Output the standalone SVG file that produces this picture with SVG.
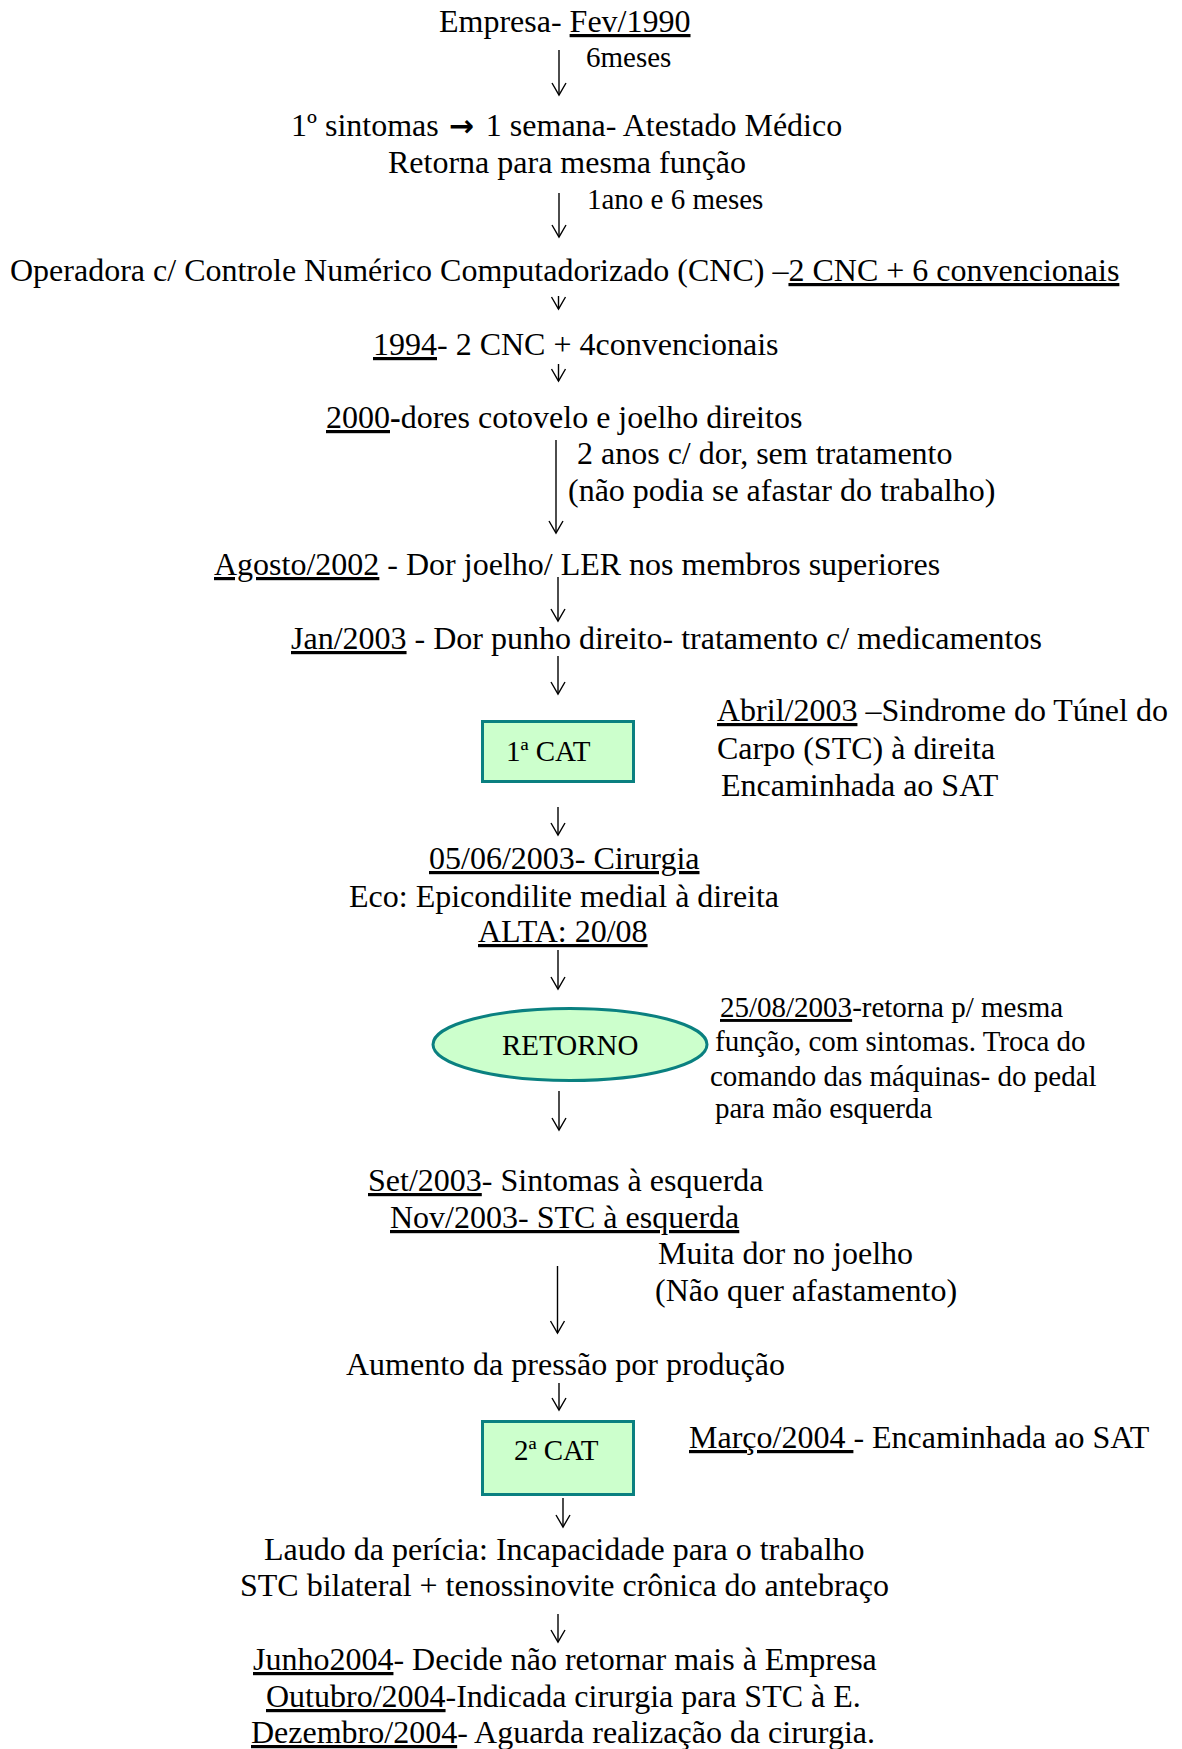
<svg xmlns="http://www.w3.org/2000/svg" width="1182" height="1749" viewBox="0 0 1182 1749">
  <style>
    text { font-family: "Liberation Serif", "Times New Roman", serif; fill: #000; }
    .t { font-size: 32px; }
    .s { font-size: 29px; }
    .u { text-decoration: underline; }
    .b { font-weight: bold; }
    .arw { font-family: "DejaVu Sans", sans-serif; font-weight: bold; font-size: 30px; }
    .box { fill: #CCFFCC; stroke: #0A8080; stroke-width: 3; }
    .flow line { stroke: #000; stroke-width: 1.4; fill: none; marker-end: url(#head); }
  </style>
  <defs>
    <marker id="head" markerUnits="userSpaceOnUse" markerWidth="20" markerHeight="20" viewBox="-14 -10 16 20" refX="0" refY="0" orient="auto">
      <path d="M-12,-7 L0,0 L-12,7" fill="none" stroke="#000" stroke-width="1.4"/>
    </marker>
  </defs>

  <rect width="1182" height="1749" fill="#fff"/>

  <!-- connectors -->
  <g id="connectors" class="flow">
    <line x1="559" y1="50" x2="559" y2="95"/>
    <line x1="559" y1="193" x2="559" y2="237"/>
    <line x1="558.5" y1="296" x2="558.5" y2="309"/>
    <line x1="558.5" y1="364" x2="558.5" y2="381"/>
    <line x1="556" y1="440" x2="556" y2="533"/>
    <line x1="558" y1="577" x2="558" y2="621"/>
    <line x1="558" y1="656" x2="558" y2="694"/>
    <line x1="558" y1="807" x2="558" y2="835"/>
    <line x1="558" y1="950" x2="558" y2="989"/>
    <line x1="559" y1="1091" x2="559" y2="1130"/>
    <line x1="557.5" y1="1266" x2="557.5" y2="1333"/>
    <line x1="559" y1="1383" x2="559" y2="1410"/>
    <line x1="563" y1="1498" x2="563" y2="1527"/>
    <line x1="558" y1="1614" x2="558" y2="1642"/>
  </g>

  <!-- timeline entries -->
  <g id="empresa">
    <text class="t" x="439" y="32">Empresa- <tspan class="u">Fev/1990</tspan></text>
  </g>
  <g id="lbl-6meses">
    <text class="s" x="586" y="67">6meses</text>
  </g>

  <g id="sintomas">
    <text class="t" x="291" y="136">1º sintomas <tspan class="arw" dx="2">→</tspan><tspan dx="4"> 1 semana- Atestado Médico</tspan></text>
    <text class="t" x="388" y="173">Retorna para mesma função</text>
  </g>
  <g id="lbl-1ano">
    <text class="s" x="587" y="209">1ano e 6 meses</text>
  </g>

  <g id="operadora">
    <text class="t" x="10" y="281">Operadora c/ Controle Numérico Computadorizado (CNC) –<tspan class="u">2 CNC + 6 convencionais</tspan></text>
  </g>

  <g id="ano1994">
    <text class="t" x="373" y="355"><tspan class="u">1994</tspan>- 2 CNC + 4convencionais</text>
  </g>

  <g id="ano2000">
    <text class="t" x="326" y="428"><tspan class="u">2000</tspan><tspan class="b">-</tspan>dores cotovelo e joelho direitos</text>
  </g>
  <g id="lbl-2anos">
    <text class="t" x="577" y="464">2 anos c/ dor, sem tratamento</text>
    <text class="t" x="568" y="501">(não podia se afastar do trabalho)</text>
  </g>

  <g id="agosto2002">
    <text class="t" x="214" y="575"><tspan class="u">Agosto/2002</tspan> - Dor joelho/ LER nos membros superiores</text>
  </g>

  <g id="jan2003">
    <text class="t" x="291" y="649"><tspan class="u">Jan/2003</tspan> - Dor punho direito- tratamento c/ medicamentos</text>
  </g>

  <g id="cat1">
    <rect class="box" x="482.5" y="721.5" width="151" height="60"/>
    <text class="s" x="506" y="761">1ª CAT</text>
  </g>
  <g id="abril2003">
    <text class="t" x="717" y="721"><tspan class="u">Abril/2003</tspan> –Sindrome do Túnel do</text>
    <text class="t" x="717" y="759">Carpo (STC) à direita</text>
    <text class="t" x="721" y="796">Encaminhada ao SAT</text>
  </g>

  <g id="cirurgia">
    <text class="t" x="429" y="869"><tspan class="u">05/06/2003- Cirurgia</tspan></text>
    <text class="t" x="349" y="907">Eco: Epicondilite medial à direita</text>
    <text class="t" x="478" y="942"><tspan class="u">ALTA: 20/08</tspan></text>
  </g>

  <g id="retorno">
    <ellipse class="box" cx="570" cy="1044.5" rx="137" ry="36"/>
    <text class="s" x="502" y="1055">RETORNO</text>
  </g>
  <g id="retorno-nota">
    <text class="s" x="720" y="1017"><tspan class="u">25/08/2003</tspan>-retorna p/ mesma</text>
    <text class="s" x="715" y="1051">função, com sintomas. Troca do</text>
    <text class="s" x="710" y="1086">comando das máquinas- do pedal</text>
    <text class="s" x="715" y="1118">para mão esquerda</text>
  </g>

  <g id="set2003">
    <text class="t" x="368" y="1191"><tspan class="u">Set/2003</tspan>- Sintomas à esquerda</text>
    <text class="t" x="390" y="1228"><tspan class="u">Nov/2003- STC à esquerda</tspan></text>
  </g>
  <g id="lbl-joelho">
    <text class="t" x="658" y="1264">Muita dor no joelho</text>
    <text class="t" x="655" y="1301">(Não quer afastamento)</text>
  </g>

  <g id="pressao">
    <text class="t" x="346" y="1375">Aumento da pressão por produção</text>
  </g>

  <g id="cat2">
    <rect class="box" x="482.5" y="1421.5" width="151" height="73"/>
    <text class="s" x="514" y="1460">2ª CAT</text>
  </g>
  <g id="marco2004">
    <text class="t" x="689" y="1448"><tspan class="u">Março/2004 </tspan>- Encaminhada ao SAT</text>
  </g>

  <g id="laudo">
    <text class="t" x="264" y="1560">Laudo da perícia: Incapacidade para o trabalho</text>
    <text class="t" x="240" y="1596">STC bilateral + tenossinovite crônica do antebraço</text>
  </g>

  <g id="desfecho">
    <text class="t" x="253" y="1670"><tspan class="u">Junho2004</tspan>- Decide não retornar mais à Empresa</text>
    <text class="t" x="266" y="1707"><tspan class="u">Outubro/2004</tspan>-Indicada cirurgia para STC à E.</text>
    <text class="t" x="251" y="1743"><tspan class="u">Dezembro/2004</tspan>- Aguarda realização da cirurgia.</text>
  </g>
</svg>
